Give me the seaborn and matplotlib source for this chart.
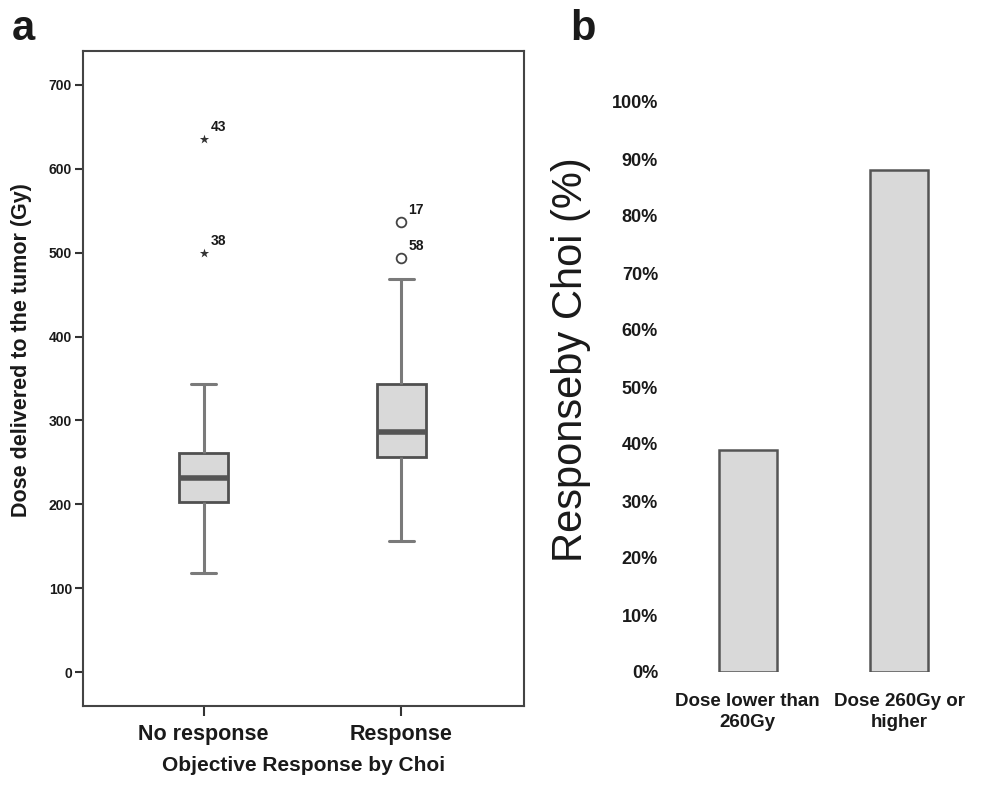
import numpy as np
import pandas as pd
import seaborn as sns
import matplotlib
matplotlib.use("Agg")
import matplotlib.pyplot as plt

# --------------------------------------------------------------------------- #
# Data                                                                        #
# --------------------------------------------------------------------------- #
# panel a: five-number summaries (whisker low, Q1, median, Q3, whisker high)
groups = ["No response", "Response"]
no_response_summary = [118, 203, 232, 261, 343]
response_summary = [157, 257, 286, 343, 468]

# extreme values (stars) and outliers (circles) with case numbers
extreme_group = ["No response", "No response"]
extreme_dose = [635, 499]
extreme_case = ["43", "38"]
outlier_group = ["Response", "Response"]
outlier_dose = [536, 493]
outlier_case = ["17", "58"]

# panel b: response rate by dose group
dose_groups = ["Dose lower than\n260Gy", "Dose 260Gy or\nhigher"]
response_rate = [39, 88]
pct_ticks = list(range(0, 101, 10))

# --------------------------------------------------------------------------- #
# Styling                                                                     #
# --------------------------------------------------------------------------- #
sns.set_theme(style="white")
plt.rcParams["font.family"] = ["Liberation Sans", "DejaVu Sans"]

box_face = "#d9d9d9"
edge_col = "#505050"
whisk_col = "#7a7a7a"
text_col = "#1a1a1a"

fig = plt.figure(figsize=(9.85, 7.91), dpi=100)
ax_a = fig.add_axes([83 / 985, 1 - 706 / 791, 441 / 985, 655 / 791])
ax_b = fig.add_axes([672 / 985, 1 - 672 / 791, 303 / 985, 570 / 791])

# --------------------------------------------------------------------------- #
# Panel a: boxplot                                                            #
# --------------------------------------------------------------------------- #
box_df = pd.DataFrame({
    "group": [groups[0]] * 5 + [groups[1]] * 5,
    "dose": no_response_summary + response_summary,
})

sns.boxplot(
    data=box_df, x="group", y="dose", order=groups,
    whis=(0, 100), width=0.25, color=box_face, saturation=1,
    linecolor=edge_col, linewidth=2, showfliers=False,
    medianprops=dict(color="#555555", linewidth=4),
    whiskerprops=dict(color=whisk_col, linewidth=2.2),
    capprops=dict(color=whisk_col, linewidth=2.2),
    ax=ax_a,
)

sns.stripplot(x=extreme_group, y=extreme_dose, order=groups, jitter=False,
              marker="*", size=7, color="#333333", ax=ax_a)
sns.stripplot(x=outlier_group, y=outlier_dose, order=groups, jitter=False,
              marker="o", size=7, color="white", edgecolor="#444444",
              linewidth=1.3, ax=ax_a)

for g, d, lab in zip(extreme_group + outlier_group,
                     extreme_dose + outlier_dose,
                     extreme_case + outlier_case):
    ax_a.annotate(lab, (groups.index(g), d), xytext=(5, 4),
                  textcoords="offset points", ha="left", va="bottom",
                  fontsize=10, fontweight="bold", color=text_col)

ax_a.set_xlim(-0.61, 1.62)
ax_a.set_ylim(-40, 740)
ax_a.set_yticks(range(0, 701, 100))
ax_a.tick_params(axis="y", which="major", left=True, length=6, width=1.5,
                 color="#333333", labelsize=10, pad=2, labelcolor=text_col)
ax_a.tick_params(axis="x", which="major", bottom=True, length=7, width=1.5,
                 color="#333333", labelsize=15.5, pad=6, labelcolor=text_col)
for lab in ax_a.get_xticklabels() + ax_a.get_yticklabels():
    lab.set_fontweight("bold")
for sp in ax_a.spines.values():
    sp.set_visible(True)
    sp.set_color("#444444")
    sp.set_linewidth(1.5)
ax_a.set_xlabel("Objective Response by Choi", fontsize=15,
                fontweight="bold", color=text_col, labelpad=8)
ax_a.set_ylabel("Dose delivered to the tumor (Gy)", fontsize=15.5,
                fontweight="bold", color=text_col, va="center")
ax_a.yaxis.set_label_coords(-0.14, 0.543)

# --------------------------------------------------------------------------- #
# Panel b: bar chart                                                          #
# --------------------------------------------------------------------------- #
sns.barplot(x=dose_groups, y=response_rate, color=box_face, saturation=1,
            width=0.38, edgecolor="#555555", linewidth=1.8, ax=ax_b)
ax_b.set_xlim(-0.5, 1.5)
ax_b.set_ylim(0, 100)
ax_b.set_yticks(pct_ticks)
ax_b.set_yticklabels([f"{t}%" for t in pct_ticks])
ax_b.tick_params(axis="y", left=False, labelsize=13, pad=4,
                 labelcolor=text_col)
ax_b.tick_params(axis="x", bottom=False, labelsize=13.5, pad=9,
                 labelcolor=text_col)
for lab in ax_b.get_xticklabels() + ax_b.get_yticklabels():
    lab.set_fontweight("bold")
    lab.set_linespacing(1.3)
sns.despine(ax=ax_b, left=True, bottom=True)
ax_b.set_ylabel("")
fig.text(571 / 985, 1 - 360 / 791, "Responseby Choi (%)", rotation=90,
         ha="center", va="center", fontsize=30, color=text_col)

# panel letters
fig.text(12 / 985, 1 - 40 / 791, "a", fontsize=30, fontweight="bold",
         color=text_col)
fig.text(570 / 985, 1 - 40 / 791, "b", fontsize=30, fontweight="bold",
         color=text_col)

fig.savefig("out.png", dpi=100, facecolor="white")
